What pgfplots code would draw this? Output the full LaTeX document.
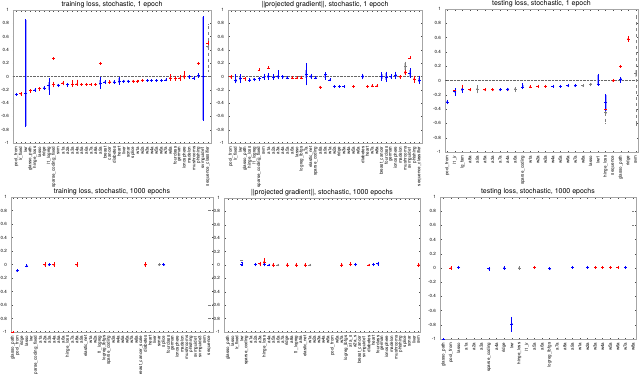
\documentclass[border=0pt]{standalone}
\usepackage{fontspec}
\setmainfont{TeX Gyre Heros}
\usepackage{pgfplots}
\usepackage{pgfplotstable}
\pgfplotsset{compat=1.18}

% columns: category, median, box low/high, whisker low/high
\pgfplotstableread{
x m bl bh wl wh
1 -0.26 -0.27 -0.25 -0.28 -0.25
3 -0.21 -0.22 -0.20 -0.23 -0.20
5 -0.18 -0.19 -0.17 -0.20 -0.17
8 -0.12 -0.13 -0.11 -0.15 -0.09
10 -0.10 -0.11 -0.09 -0.12 -0.08
12 -0.12 -0.13 -0.11 -0.14 -0.07
13 -0.11 -0.12 -0.10 -0.13 -0.06
14 -0.12 -0.13 -0.11 -0.13 -0.11
15 -0.12 -0.13 -0.11 -0.13 -0.11
16 -0.12 -0.13 -0.11 -0.13 -0.11
17 -0.12 -0.13 -0.11 -0.13 -0.11
20 -0.08 -0.09 -0.07 -0.10 -0.07
25 -0.07 -0.08 -0.06 -0.08 -0.06
26 -0.07 -0.08 -0.06 -0.08 -0.06
27 -0.06 -0.07 -0.05 -0.07 -0.05
33 -0.02 -0.04 0.00 -0.05 0.02
34 -0.03 -0.04 -0.02 -0.05 -0.01
35 -0.02 -0.04 0.00 -0.05 0.01
36 0.00 -0.02 0.02 -0.03 0.07
41 0.50 0.49 0.51 0.48 0.52
}\pOneR
\pgfplotstableread{
x m bl bh wl wh
0 -0.27 -0.28 -0.26 -0.28 -0.26
2 -0.25 -0.75 0.85 -0.75 0.85
4 -0.20 -0.21 -0.19 -0.22 -0.19
6 -0.17 -0.18 -0.16 -0.19 -0.16
7 -0.13 -0.20 -0.08 -0.26 -0.04
9 -0.13 -0.14 -0.12 -0.15 -0.12
11 -0.12 -0.13 -0.11 -0.14 -0.11
18 -0.10 -0.13 -0.06 -0.17 -0.02
19 -0.08 -0.09 -0.07 -0.10 -0.07
21 -0.08 -0.09 -0.07 -0.10 -0.07
22 -0.07 -0.10 -0.03 -0.11 -0.02
23 -0.07 -0.08 -0.06 -0.08 -0.06
24 -0.07 -0.08 -0.06 -0.08 -0.06
28 -0.06 -0.07 -0.05 -0.07 -0.05
29 -0.06 -0.07 -0.05 -0.07 -0.05
30 -0.06 -0.07 -0.05 -0.07 -0.05
31 -0.06 -0.07 -0.05 -0.07 -0.05
32 -0.05 -0.06 -0.04 -0.06 -0.04
37 0.00 -0.01 0.01 -0.02 0.01
38 -0.02 -0.03 -0.01 -0.04 -0.01
39 0.02 0.00 0.03 -0.01 0.04
40 0.00 -0.65 0.90 -0.65 0.90
}\pOneB
\pgfplotstableread{
x m bl bh wl wh
41 0.45 0.44 0.46 0.08 0.78
}\pOneG
\pgfplotstableread{
x y
8 0.27
18 0.20
39 0.20
}\pOneO

\pgfplotstableread{
x m bl bh wl wh
0 0.00 -0.01 0.01 -0.02 0.01
3 -0.03 -0.04 -0.02 -0.05 -0.02
13 -0.02 -0.03 -0.01 -0.03 -0.01
14 -0.02 -0.03 -0.01 -0.03 -0.01
15 -0.02 -0.03 -0.01 -0.03 0.00
19 -0.16 -0.17 -0.15 -0.17 -0.15
26 -0.15 -0.16 -0.14 -0.16 -0.14
29 -0.15 -0.16 -0.14 -0.16 -0.14
30 -0.14 -0.15 -0.13 -0.15 -0.13
31 -0.14 -0.15 -0.13 -0.15 -0.13
36 0.00 -0.01 0.01 -0.02 0.01
37 0.06 0.04 0.08 0.03 0.09
38 0.05 0.04 0.06 0.03 0.07
39 -0.04 -0.06 -0.02 -0.08 0.00
}\pTwoR
\pgfplotstableread{
x m bl bh wl wh
1 -0.06 -0.08 -0.04 -0.09 0.02
2 -0.03 -0.06 0.00 -0.08 0.02
4 -0.05 -0.06 -0.04 -0.07 -0.04
5 -0.04 -0.05 -0.03 -0.06 -0.03
6 -0.03 -0.04 -0.02 -0.05 -0.02
7 -0.01 -0.03 0.01 -0.04 0.03
8 0.00 -0.03 0.03 -0.04 0.04
9 -0.01 -0.03 0.01 -0.04 0.02
10 0.00 -0.02 0.02 -0.03 0.08
11 0.00 -0.01 0.01 -0.02 0.01
12 -0.02 -0.03 -0.01 -0.03 -0.01
16 0.04 -0.02 0.10 -0.12 0.19
17 0.00 -0.02 0.02 -0.03 0.03
18 -0.02 -0.03 -0.01 -0.03 -0.01
20 0.03 -0.02 0.04 -0.04 0.05
21 -0.05 -0.06 -0.04 -0.06 -0.04
22 -0.15 -0.16 -0.14 -0.16 -0.14
23 -0.15 -0.16 -0.14 -0.16 -0.14
24 -0.15 -0.16 -0.14 -0.16 -0.14
28 0.00 -0.02 0.02 -0.03 0.03
32 0.00 -0.04 0.04 -0.05 0.05
33 -0.01 -0.06 0.05 -0.07 0.06
34 0.00 -0.01 0.01 -0.02 0.02
35 0.02 -0.01 0.04 -0.02 0.06
38 0.05 0.00 0.10 -0.01 0.11
40 -0.05 -0.08 -0.02 -0.10 0.00
}\pTwoB
\pgfplotstableread{
x m bl bh wl wh
37 0.15 0.10 0.20 0.09 0.21
}\pTwoG
\pgfplotstableread{
x y
6 0.10
8 0.13
38 0.28
}\pTwoO

\pgfplotstableread{
x m bl bh wl wh
0 -0.30 -0.31 -0.29 -0.32 -0.28
1 -0.14 -0.15 -0.13 -0.16 -0.13
2 -0.12 -0.13 -0.11 -0.13 -0.07
3 -0.13 -0.14 -0.12 -0.14 -0.12
5 -0.13 -0.14 -0.12 -0.14 -0.12
6 -0.13 -0.14 -0.12 -0.14 -0.12
8 -0.13 -0.14 -0.12 -0.14 -0.12
11 -0.09 -0.10 -0.08 -0.10 -0.08
12 -0.08 -0.09 -0.07 -0.09 -0.07
13 -0.08 -0.09 -0.07 -0.09 -0.07
21 -0.40 -0.41 -0.39 -0.42 -0.38
22 0.00 -0.01 0.01 -0.01 0.01
24 0.58 0.56 0.60 0.55 0.61
}\pThrR
\pgfplotstableread{
x m bl bh wl wh
0 -0.30 -0.31 -0.29 -0.32 -0.29
1 -0.15 -0.17 -0.13 -0.20 -0.12
2 -0.13 -0.15 -0.12 -0.16 -0.11
7 -0.13 -0.14 -0.12 -0.14 -0.12
8 -0.12 -0.13 -0.11 -0.13 -0.11
10 -0.09 -0.10 -0.06 -0.11 -0.05
14 -0.08 -0.09 -0.07 -0.09 -0.07
15 -0.08 -0.09 -0.07 -0.09 -0.07
16 -0.07 -0.08 -0.06 -0.08 -0.06
17 -0.07 -0.08 -0.06 -0.08 -0.06
20 -0.05 -0.05 0.08 -0.06 0.08
21 -0.30 -0.42 -0.20 -0.42 -0.20
23 0.02 -0.01 0.03 -0.02 0.04
}\pThrB
\pgfplotstableread{
x m bl bh wl wh
4 -0.12 -0.13 -0.11 -0.17 -0.08
9 -0.12 -0.13 -0.11 -0.15 -0.10
18 -0.07 -0.08 -0.06 -0.08 -0.06
19 -0.05 -0.06 -0.04 -0.07 -0.04
21 -0.45 -0.46 -0.44 -0.60 -0.42
25 0.10 0.05 0.15 -0.62 0.90
}\pThrG
\pgfplotstableread{
x y
23 0.20
}\pThrO

\pgfplotstableread{
x m bl bh wl wh
0 -1.00 -1.00 -1.00 -1.00 -1.00
1 -0.09 -0.10 -0.08 -0.10 -0.08
3 -0.02 -0.03 -0.01 -0.03 -0.01
7 0.00 -0.01 0.01 -0.02 0.02
9 0.00 -0.01 0.01 -0.02 0.02
14 0.00 -0.01 0.01 -0.02 0.02
29 0.00 -0.01 0.01 -0.02 0.02
}\pFouR
\pgfplotstableread{
x m bl bh wl wh
1 -0.09 -0.10 -0.08 -0.10 -0.08
3 -0.02 -0.03 -0.01 -0.03 -0.01
8 0.00 -0.01 0.01 -0.01 0.01
33 0.00 -0.01 0.01 -0.01 0.01
}\pFouB
\pgfplotstableread{
x m bl bh wl wh
32 0.00 -0.01 0.01 -0.01 0.01
}\pFouG
\pgfplotstableread{
x y
43 0.80
43 -0.60
43 -0.80
}\pFouO

\pgfplotstableread{
x m bl bh wl wh
7 0.02 0.00 0.03 -0.01 0.04
8 0.04 0.02 0.06 0.01 0.09
10 0.00 -0.01 0.01 -0.02 0.02
13 0.00 -0.01 0.01 -0.02 0.02
15 0.00 -0.01 0.01 -0.02 0.02
17 0.00 -0.01 0.01 -0.02 0.02
25 0.00 -0.01 0.01 -0.02 0.02
27 0.01 0.00 0.02 -0.01 0.03
31 0.00 -0.01 0.01 -0.01 0.01
42 0.00 -0.01 0.01 -0.02 0.02
}\pFivR
\pgfplotstableread{
x m bl bh wl wh
3 0.01 0.00 0.02 -0.01 0.04
6 0.01 0.00 0.02 -0.01 0.02
8 0.01 0.00 0.02 -0.01 0.02
9 0.00 -0.01 0.01 -0.01 0.01
28 0.01 0.00 0.02 -0.01 0.02
32 0.01 0.00 0.02 -0.01 0.02
33 0.02 0.01 0.03 0.00 0.04
}\pFivB
\pgfplotstableread{
x m bl bh wl wh
11 0.00 -0.01 0.01 -0.01 0.01
18 0.00 -0.01 0.01 -0.01 0.01
}\pFivG
\pgfplotstableread{
x y
3 0.07
}\pFivO

\pgfplotstableread{
x m bl bh wl wh
0 -1.00 -1.00 -1.00 -1.00 -1.00
1 0.00 -0.01 0.01 -0.01 0.01
12 0.01 0.00 0.02 0.00 0.02
19 0.01 0.00 0.02 0.00 0.02
20 0.01 0.00 0.02 0.00 0.02
21 0.01 0.00 0.02 0.00 0.02
22 0.01 0.00 0.02 0.00 0.02
23 0.01 0.00 0.02 0.00 0.02
24 0.01 0.00 0.02 0.00 0.02
}\pSixR
\pgfplotstableread{
x m bl bh wl wh
0 -1.00 -1.00 -1.00 -1.00 -1.00
2 0.01 0.00 0.02 0.00 0.02
6 -0.01 -0.02 0.00 -0.03 0.00
8 0.00 -0.01 0.01 -0.01 0.01
9 -0.79 -0.80 -0.78 -0.89 -0.70
14 -0.01 -0.02 0.00 -0.02 0.00
17 0.01 0.00 0.02 0.00 0.02
19 0.01 0.00 0.02 0.00 0.02
24 0.01 0.00 0.02 0.00 0.02
}\pSixB
\pgfplotstableread{
x m bl bh wl wh
10 0.00 -0.01 0.01 -0.01 0.01
}\pSixG
\pgfplotstableread{
x y
25 0.80
25 0.60
}\pSixO

\pgfplotsset{
  panel/.style={scale only axis, anchor=south west, ymin=-1, ymax=1,
    ytick={-1,-0.8,-0.6,-0.4,-0.2,0,0.2,0.4,0.6,0.8,1},
    yticklabels={-1,-0.8,-0.6,-0.4,-0.2,0,0.2,0.4,0.6,0.8,1},
    tick label style={font=\fontsize{4.5}{5}\selectfont},
    x tick label style={rotate=90, anchor=east},
    yticklabel style={xshift=-0.5pt},
    tick align=inside, major tick length=1.5pt,
    tick style={black!70, line width=0.3pt},
    axis line style={black!35, line width=0.4pt},
    title style={font=\fontsize{7}{8}\selectfont, at={(0.5,1)}, anchor=base, yshift=-2pt}},
}

% box (thick, light) then whisker with median dash
\newcommand\bxp[3]{%
  \addplot[draw=none, mark=none, error bars/y dir=both, error bars/y explicit,
    error bars/error mark=none,
    error bars/error bar style={draw=#2!35, line width=2pt}]
    table[x=x, y=m, y error plus expr=\thisrow{bh}-\thisrow{m},
      y error minus expr=\thisrow{m}-\thisrow{bl}] {#1};
  \addplot[only marks, mark=-, mark size=1.5pt, color=#2,
    mark options={line width=0.6pt},
    error bars/y dir=both, error bars/y explicit, error bars/error mark=-,
    error bars/error mark options={mark size=0.8pt, #2},
    error bars/error bar style={#2, line width=0.35pt, #3}]
    table[x=x, y=m, y error plus expr=\thisrow{wh}-\thisrow{m},
      y error minus expr=\thisrow{m}-\thisrow{wl}] {#1};
}
\newcommand\outl[2]{%
  \addplot[only marks, mark=+, mark size=1.4pt, #2] table[x=x, y=y] {#1};
}

\begin{document}
\begin{tikzpicture}
\useasboundingbox (0,0) rectangle (640pt,373pt);

\begin{axis}[panel, at={(13pt,230pt)}, width=198pt, height=133pt,
  xmin=-0.7, xmax=41.7, xtick={0,...,41},
  title={training loss, stochastic, 1 epoch},
  xticklabels={pool\_from, lr\_fixed, lwr, glasso\_path, hinge\_loss, lasso, ridge, l1\_logreg, sparse\_coding\_fixed, svm, a1a, a2a, a3a, a4a, a5a, a6a, a7a, a8a, a9a, breast, cancer, diabetes, heart, liver, sonar, splice, w1a, w2a, w3a, w4a, w5a, w6a, w7a, w8a, fourclass, german, ionosphere, madelon, mushrooms, phishing, svmguide1, sequence\_classifier}]
\addplot[black!60, densely dotted] coordinates {(-1,0) (50,0)};
\bxp{\pOneG}{gray}{dashed}
\bxp{\pOneR}{red}{}
\bxp{\pOneB}{blue}{}
\outl{\pOneO}{red}
\end{axis}

\begin{axis}[panel, at={(228pt,230pt)}, width=194pt, height=133pt,
  xmin=-0.6, xmax=40.6, xtick={0,...,40},
  title={||projected gradient||, stochastic, 1 epoch},
  xticklabels={pool\_from, lr\_fixed, lwr, glasso\_path, hinge\_loss, l1\_logreg, sparse\_coding\_fixed, svm, a1a, a2a, a3a, a4a, a5a, a6a, lasso, logreg\_lbfgs, a7a, elastic\_net, sparse\_coding, a8a, a9a, w1a, w2a, ridge, w3a, w4a, w5a, w6a, diabetes, heart, w7a, w8a, breast\_cancer, fourclass, german, ionosphere, madelon, mushrooms, svmguide1, phishing, sequence\_classifier}]
\addplot[black!60, densely dotted] coordinates {(-1,0) (50,0)};
\bxp{\pTwoG}{gray}{}
\bxp{\pTwoR}{red}{}
\bxp{\pTwoB}{blue}{}
\outl{\pTwoO}{red}
\end{axis}

\begin{axis}[panel, at={(445pt,221pt)}, width=193pt, height=143pt,
  xmin=-0.3, xmax=25.3, xtick={0,...,25},
  title={testing loss, stochastic, 1 epoch},
  xticklabels={pool\_from, l1\_lr, lg\_fam, a8a, a9a, a5a, a3a, a7a, a4a, a6a, sparse\_coding, w1a, w2a, w3a, w4a, w5a, w6a, w7a, w8a, lasso, lwr1, hinge\_loss, sequence, glasso\_path, ridge, svm}]
\addplot[black!60, densely dotted] coordinates {(-1,0) (50,0)};
\bxp{\pThrG}{gray}{dashed}
\bxp{\pThrR}{red}{}
\bxp{\pThrB}{blue}{}
\outl{\pThrO}{red}
\end{axis}

\begin{axis}[panel, at={(11pt,41pt)}, width=202pt, height=135pt,
  xmin=-0.4, xmax=43.8, xtick={0,...,43},
  title={training loss, stochastic, 1000 epochs},
  xticklabels={glasso\_path, pool\_from, ridge, lasso, lwr, sparse\_coding\_fixed, a1a, a2a, a3a, a4a, a5a, a6a, hinge\_loss, a7a, a8a, a9a, elastic\_net, w1a, w2a, l1\_logreg, logreg\_lbfgs, sparse\_coding, w3a, w4a, w5a, w6a, w7a, w8a, breast\_cancer\_scale, diabetes, heart, liver, sonar, splice, fourclass, german, ionosphere, madelon, mushrooms, phishing, svmguide1, svmguide3, svm, sequence}]
\bxp{\pFouG}{gray}{}
\bxp{\pFouR}{red}{}
\bxp{\pFouB}{blue}{}
\outl{\pFouO}{gray, mark=-}
\end{axis}

\begin{axis}[panel, at={(224pt,41pt)}, width=196pt, height=134pt,
  xmin=-0.9, xmax=42.3, xtick={0,...,42},
  title={||projected gradient||, stochastic, 1000 epochs},
  xticklabels={glasso\_path, lasso, lr\_fixed, lwr, sparse\_coding, a1a, a2a, a3a, hinge\_loss, a4a, a5a, a6a, a7a, ridge, a8a, l1\_logreg, a9a, elastic\_net, w1a, w2a, w3a, w4a, w5a, pool\_from, w6a, w7a, logreg\_lbfgs, a1a\_s, a2a\_s, breast\_cancer, svmguide1, diabetes, heart, fourclass, german, ionosphere, madelon, mushrooms, phishing, splice, sonar, liver, svm}]
\bxp{\pFivG}{gray}{}
\bxp{\pFivR}{red}{}
\bxp{\pFivB}{blue}{}
\outl{\pFivO}{gray, mark=-}
\end{axis}

\begin{axis}[panel, at={(440pt,34pt)}, width=196pt, height=142pt,
  xmin=-0.45, xmax=25.4, xtick={0,...,25},
  title={testing loss, stochastic, 1000 epochs},
  xticklabels={glasso\_path, pool\_from, lasso, a1a, a2a, a3a, sparse\_coding, a4a, ridge, lwr, hinge\_loss, l1\_lr, a5a, a6a, logreg\_lbfgs, a7a, a8a, a9a, w1a, w2a, w3a, w4a, w5a, w6a, w7a, w8a}]
\bxp{\pSixG}{gray}{}
\bxp{\pSixR}{red}{}
\bxp{\pSixB}{blue}{}
\outl{\pSixO}{gray, mark=-}
\end{axis}
\end{tikzpicture}
\end{document}
